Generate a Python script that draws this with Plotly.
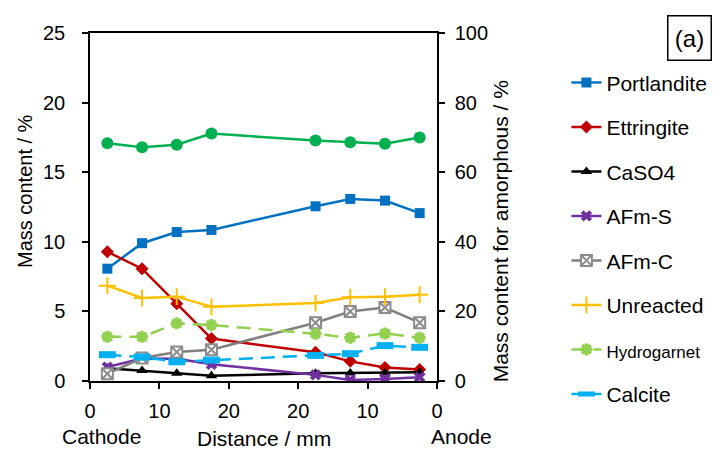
import plotly.graph_objects as go

# ---- data ----
x_pos = [2.5, 7.5, 12.5, 17.5, 32.5, 37.5, 42.5, 47.5]
tick_vals = [0, 10, 20, 30, 40, 50]
tick_text = ["0", "10", "20", "20", "10", "0"]

portlandite = [8.07, 9.9, 10.7, 10.85, 12.55, 13.08, 12.96, 12.06]
ettringite = [9.28, 8.07, 5.55, 3.05, 2.06, 1.41, 0.97, 0.82]
caso4 = [0.92, 0.75, 0.56, 0.38, 0.56, 0.58, 0.58, 0.62]
afm_s = [1.0, 1.62, 1.6, 1.2, 0.44, 0.07, 0.15, 0.27]
afm_c = [0.52, 1.65, 2.08, 2.25, 4.19, 4.99, 5.28, 4.19]
unreacted = [6.85, 5.96, 6.06, 5.33, 5.6, 6.02, 6.06, 6.2]
hydrogarnet = [3.17, 3.17, 4.14, 4.02, 3.39, 3.1, 3.42, 3.1]
calcite = [1.89, 1.72, 1.38, 1.5, 1.84, 1.96, 2.54, 2.42]
amorphous = [68.3, 67.2, 67.9, 71.1, 69.1, 68.6, 68.2, 70.0]

FONT = "Liberation Sans, Arial, sans-serif"

series = [
    ("Portlandite", portlandite, "#0070C0", "solid", dict(symbol="square", size=10, color="#0070C0")),
    ("Ettringite", ettringite, "#C00000", "solid", dict(symbol="diamond", size=10, color="#C00000")),
    ("CaSO4", caso4, "#000000", "solid", dict(symbol="triangle-up", size=10, color="#000000")),
    ("AFm-S", afm_s, "#7030A0", "solid", dict(symbol="x", size=10, color="#7030A0")),
    ("AFm-C", afm_c, "#808080", "solid", dict(symbol="square-x", size=11, color="#FFFFFF",
                                               line=dict(color="#8C8C8C", width=2))),
    ("Unreacted", unreacted, "#FFC000", "solid", dict(symbol="cross-thin", size=12, color="#FFC000",
                                                      line=dict(color="#FFC000", width=2))),
    ("<span style='font-size:17px'>Hydrogarnet</span>", hydrogarnet, "#92D050", "14px,8px",
     dict(symbol="asterisk", size=10, color="#92D050", line=dict(color="#92D050", width=3.5))),
    ("Calcite", calcite, "#00B0F0", "14px,8px", dict(symbol="line-ew", size=12, color="#00B0F0",
                                                    line=dict(color="#00B0F0", width=7))),
]

fig = go.Figure()
for i, (name, vals, col, dash, mk) in enumerate(series):
    fig.add_trace(go.Scatter(
        x=x_pos, y=vals, name=name, mode="lines+markers",
        line=dict(color=col, width=2.5, dash=dash), marker=mk,
        legendgroup=f"g{i}", xaxis="x", yaxis="y"))

fig.add_trace(go.Scatter(
    x=x_pos, y=amorphous, name="Amorphous", mode="lines+markers", showlegend=False,
    line=dict(color="#00B050", width=2.5),
    marker=dict(symbol="circle", size=12, color="#00B050"),
    xaxis="x", yaxis="y2"))

axis_common = dict(showline=True, linecolor="black", linewidth=1.5, ticks="outside",
                   tickcolor="black", tickwidth=1.5, ticklen=6, showgrid=False, zeroline=False,
                   tickfont=dict(family=FONT, size=20, color="black"))

fig.update_layout(
    width=715, height=450,
    margin=dict(l=90, r=278, t=33, b=69, autoexpand=False),
    paper_bgcolor="white", plot_bgcolor="white",
    font=dict(family=FONT, size=20, color="black"),
    xaxis=dict(range=[0, 50], tickvals=tick_vals, ticktext=tick_text, mirror=True,
               ticklabelstandoff=5, **axis_common),
    yaxis=dict(range=[0, 25], dtick=5, ticklabelstandoff=13, **axis_common),
    yaxis2=dict(range=[0, 100], dtick=20, overlaying="y", side="right",
                ticklabelstandoff=6, **axis_common),
    legend=dict(x=1.373, y=0.916, xanchor="left", yanchor="top",
                traceorder="grouped", tracegroupgap=14.2, maxheight=440,
                font=dict(family=FONT, size=21, color="black"),
                bgcolor="rgba(0,0,0,0)"),
    annotations=[
        dict(text="Mass content / %", xref="paper", yref="paper", x=0, y=0.546,
             xshift=-65, xanchor="center", yanchor="middle", textangle=-90,
             showarrow=False, font=dict(size=20)),
        dict(text="Mass content for amorphous / %", xref="paper", yref="paper", x=1, y=0.43,
             xshift=63, xanchor="center", yanchor="middle", textangle=-90,
             showarrow=False, font=dict(size=21)),
        dict(text="Distance / mm", xref="paper", yref="paper", x=0.5, y=0,
             yshift=-57, xanchor="center", yanchor="middle", showarrow=False, font=dict(size=21)),
        dict(text="Cathode", xref="paper", yref="paper", x=0.032, y=0,
             yshift=-55, xanchor="center", yanchor="middle", showarrow=False, font=dict(size=21)),
        dict(text="Anode", xref="paper", yref="paper", x=1.072, y=0,
             yshift=-55, xanchor="center", yanchor="middle", showarrow=False, font=dict(size=21)),
        dict(text="(a)", xref="paper", yref="paper", x=1.729, y=0.985,
             xanchor="center", yanchor="middle", width=38, height=39,
             showarrow=False, font=dict(size=24), bordercolor="black", borderwidth=1.5,
             borderpad=2, bgcolor="white"),
    ],
)

fig.write_html("out.html")
